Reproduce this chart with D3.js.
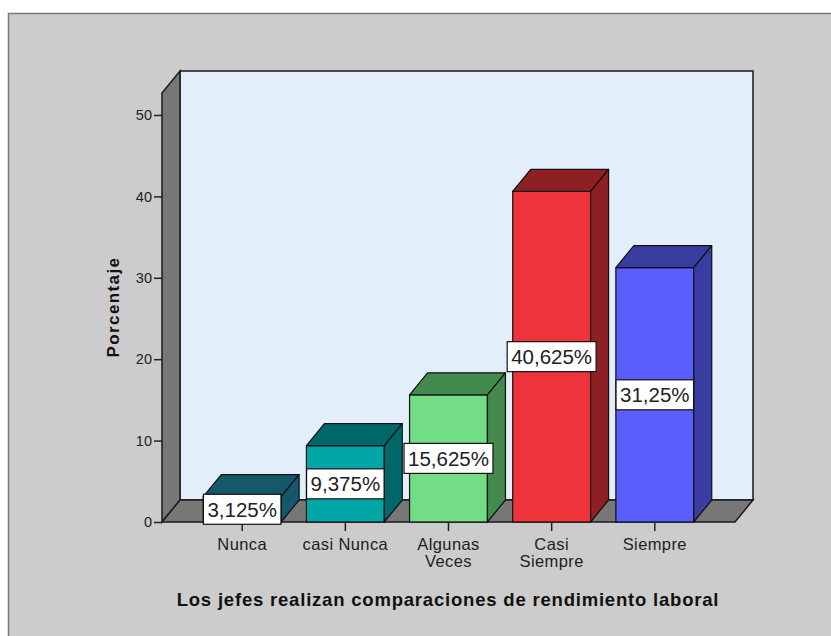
<!DOCTYPE html>
<html>
<head>
<meta charset="utf-8">
<script src="https://cdn.jsdelivr.net/npm/d3@7"></script>
<style>
    body { margin: 0; background: #fff; }
    svg { display: block; font-family: "Liberation Sans", Arial, sans-serif; }
</style>
</head>
<body>
<svg id="chart" width="831" height="636"></svg>
<script>
// data
var categories = ['Nunca', 'casi Nunca', 'Algunas Veces', 'Casi Siempre', 'Siempre']
var categoryLines = [['Nunca'], ['casi Nunca'], ['Algunas', 'Veces'], ['Casi', 'Siempre'], ['Siempre']]
var percents = [3.125, 9.375, 15.625, 40.625, 31.25]
var valueLabels = ['3,125%', '9,375%', '15,625%', '40,625%', '31,25%']
var yTicks = [0, 10, 20, 30, 40, 50]
var frontColors = ['#1d6275', '#00a6a6', '#72dd84', '#ef333a', '#5a5eff']
var darkColors = ['#15586a', '#006868', '#438a4e', '#8e1f24', '#393ca0']

var svg = d3.select('#chart')

// 3d offset of walls and bars
var dx = 18
var dy = -22
var plotLeft = 162, plotRight = 735, plotBottom = 522, plotTop = 93

// outer panel
svg.append('rect')
   .attr('x', 8.5).attr('y', 13.5)
   .attr('width', 900).attr('height', 700)
   .attr('fill', '#cccccc')
   .attr('stroke', '#7a7a7a')
   .attr('stroke-width', 1.5)

var xScale = d3.scaleBand()
               .domain(categories)
               .range([plotLeft, plotRight])
               .paddingInner(0.245)
               .paddingOuter(0.4)
var yScale = d3.scaleLinear()
               .domain([0, 52.7])
               .range([plotBottom, plotTop])

function pts(arr) {
    return arr.map(function (p) { return p[0] + ',' + p[1] }).join(' ')
}

// back wall
svg.append('rect')
   .attr('x', plotLeft + dx).attr('y', plotTop + dy)
   .attr('width', plotRight - plotLeft).attr('height', plotBottom - plotTop)
   .attr('fill', '#e2eefa')
   .attr('stroke', '#1a1a1a')
   .attr('stroke-width', 1.5)

// side wall
svg.append('polygon')
   .attr('points', pts([[plotLeft, plotTop], [plotLeft + dx, plotTop + dy], [plotLeft + dx, plotBottom + dy], [plotLeft, plotBottom]]))
   .attr('fill', '#777777')
   .attr('stroke', '#1a1a1a')
   .attr('stroke-width', 1.5)

// floor
svg.append('polygon')
   .attr('points', pts([[plotLeft, plotBottom], [plotLeft + dx, plotBottom + dy], [plotRight + dx, plotBottom + dy], [plotRight, plotBottom]]))
   .attr('fill', '#777777')
   .attr('stroke', '#1a1a1a')
   .attr('stroke-width', 1.5)

// bars
var bw = xScale.bandwidth()
var gs = svg.selectAll('.bar')
            .data(percents)
            .enter()
            .append('g')
            .attr('class', 'bar')

gs.append('rect')
  .attr('x', function (d, i) { return xScale(categories[i]) })
  .attr('y', function (d) { return yScale(d) })
  .attr('width', bw)
  .attr('height', function (d) { return plotBottom - yScale(d) })
  .attr('fill', function (d, i) { return frontColors[i] })
  .attr('stroke', '#111')
  .attr('stroke-width', 1.2)

gs.append('polygon')
  .attr('points', function (d, i) {
      var x0 = xScale(categories[i]), yv = yScale(d)
      return pts([[x0, yv], [x0 + dx, yv + dy], [x0 + bw + dx, yv + dy], [x0 + bw, yv]])
  })
  .attr('fill', function (d, i) { return darkColors[i] })
  .attr('stroke', '#111')
  .attr('stroke-width', 1.2)
  .attr('stroke-linejoin', 'round')

gs.append('polygon')
  .attr('points', function (d, i) {
      var x1 = xScale(categories[i]) + bw, yv = yScale(d)
      return pts([[x1, yv], [x1 + dx, yv + dy], [x1 + dx, plotBottom + dy], [x1, plotBottom]])
  })
  .attr('fill', function (d, i) { return darkColors[i] })
  .attr('stroke', '#111')
  .attr('stroke-width', 1.2)
  .attr('stroke-linejoin', 'round')

// y axis
var yAxis = d3.axisLeft(yScale).tickValues(yTicks).tickSize(8).tickPadding(2)
var gy = svg.append('g')
            .attr('transform', 'translate(' + plotLeft + ',0)')
            .call(yAxis)
gy.select('.domain').remove()
gy.selectAll('line').attr('stroke', '#222').attr('stroke-width', 1.5)
gy.selectAll('text')
  .attr('font-size', 14.5)
  .attr('font-family', '"Liberation Sans", Arial, sans-serif')
  .attr('fill', '#222')

// x axis
var xAxis = d3.axisBottom(xScale).tickSize(9).tickFormat('')
var gx = svg.append('g')
            .attr('transform', 'translate(0,' + plotBottom + ')')
            .call(xAxis)
gx.select('.domain').remove()
gx.selectAll('line').attr('stroke', '#222').attr('stroke-width', 1.5)
gx.selectAll('.tick').each(function (d, i) {
    var t = d3.select(this).append('text')
              .attr('y', 28)
              .attr('text-anchor', 'middle')
              .attr('font-size', 16.5)
              .attr('letter-spacing', 0.4)
              .attr('font-family', '"Liberation Sans", Arial, sans-serif')
              .attr('fill', '#222')
    categoryLines[i].forEach(function (line, j) {
        t.append('tspan').attr('x', 0).attr('dy', j === 0 ? 0 : 17).text(line)
    })
})

// value labels with white boxes
var lg = svg.selectAll('.vlabel')
            .data(percents)
            .enter()
            .append('g')
            .attr('class', 'vlabel')
lg.each(function (d, i) {
    var g = d3.select(this)
    var cx = xScale(categories[i]) + bw / 2
    var cy = (yScale(d) + plotBottom) / 2
    var box = g.append('rect')
    var txt = g.append('text')
               .attr('x', cx)
               .attr('y', cy)
               .attr('dy', '0.36em')
               .attr('text-anchor', 'middle')
               .attr('font-size', 20.5)
               .attr('fill', '#222')
               .text(valueLabels[i])
    var w = txt.node().getComputedTextLength()
    box.attr('x', cx - w / 2 - 4)
       .attr('y', cy - 15)
       .attr('width', w + 8)
       .attr('height', 30)
       .attr('fill', '#fff')
       .attr('stroke', '#111')
       .attr('stroke-width', 1.2)
})

// axis titles
svg.append('text')
   .attr('transform', 'translate(119,307) rotate(-90)')
   .attr('text-anchor', 'middle')
   .attr('font-size', 17)
   .attr('font-weight', 'bold')
   .attr('letter-spacing', 1.4)
   .attr('fill', '#111')
   .text('Porcentaje')

svg.append('text')
   .attr('x', 448)
   .attr('y', 606)
   .attr('text-anchor', 'middle')
   .attr('font-size', 18.5)
   .attr('font-weight', 'bold')
   .attr('letter-spacing', 0.8)
   .attr('fill', '#111')
   .text('Los jefes realizan comparaciones de rendimiento laboral')
</script>
</body>
</html>
